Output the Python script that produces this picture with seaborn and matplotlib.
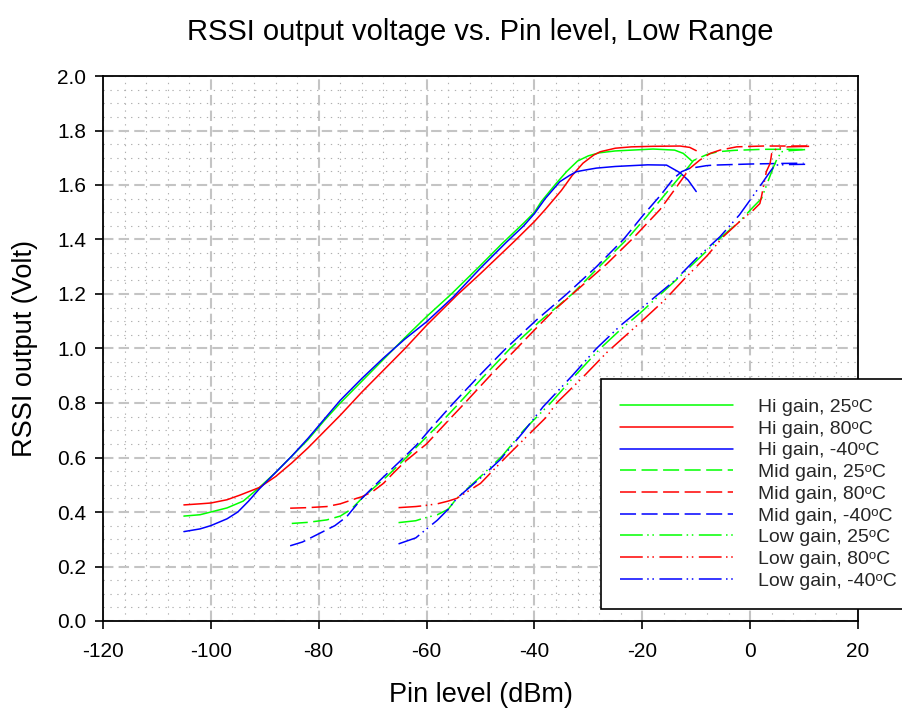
import matplotlib
matplotlib.use("Agg")
import matplotlib.pyplot as plt
import seaborn as sns
import numpy as np
import pandas as pd
from matplotlib.ticker import MultipleLocator, FormatStrFormatter
from matplotlib.lines import Line2D

# ---------------- data ----------------
hi25_x = [-105, -102, -100, -97, -94, -91, -88, -85, -82, -79, -76, -72, -68, -64, -60, -55.4, -50, -46, -42, -40, -38.7, -36, -34, -32, -30, -28, -25, -22, -18, -14, -12.4, -10.8]
hi25_y = [0.385, 0.39, 0.40, 0.415, 0.44, 0.49, 0.545, 0.605, 0.665, 0.735, 0.80, 0.88, 0.96, 1.04, 1.117, 1.20, 1.305, 1.385, 1.46, 1.50, 1.54, 1.605, 1.65, 1.688, 1.707, 1.718, 1.725, 1.728, 1.732, 1.728, 1.716, 1.688]

hi80_x = [-105, -102, -100, -97, -94.6, -91, -88, -85, -82, -79, -76, -72, -68, -64, -60, -54.4, -50, -43.9, -40, -38, -36.5, -35, -33, -31, -29, -27.8, -25, -22, -18, -13, -11.2, -10]
hi80_y = [0.426, 0.43, 0.433, 0.445, 0.462, 0.49, 0.53, 0.58, 0.635, 0.695, 0.755, 0.84, 0.92, 1.0, 1.085, 1.195, 1.275, 1.39, 1.466, 1.51, 1.545, 1.58, 1.635, 1.68, 1.71, 1.722, 1.735, 1.74, 1.742, 1.743, 1.738, 1.726]

hin40_x = [-105, -102, -100, -97, -95, -93, -91, -88, -85, -82, -79, -76, -72, -68, -64, -60, -55, -50, -45.2, -42, -40, -38, -35.3, -33.5, -32.2, -30, -28.5, -25, -19, -15.5, -13, -11.5, -10]
hin40_y = [0.328, 0.338, 0.35, 0.375, 0.40, 0.44, 0.485, 0.545, 0.605, 0.67, 0.74, 0.81, 0.89, 0.965, 1.035, 1.098, 1.19, 1.295, 1.39, 1.45, 1.495, 1.55, 1.612, 1.635, 1.649, 1.657, 1.662, 1.668, 1.674, 1.673, 1.645, 1.618, 1.576]

mid25_x = [-85, -82, -78.5, -76, -74, -72, -70, -67.4, -64, -60.6, -57.5, -54.4, -50, -44.5, -39, -33, -28, -22.9, -19.2, -16, -13, -11.5, -10.5, -8, -6, -3, 2.4, 7, 10.7]
mid25_y = [0.358, 0.362, 0.371, 0.385, 0.41, 0.45, 0.485, 0.53, 0.595, 0.664, 0.725, 0.79, 0.885, 1.0, 1.10, 1.20, 1.30, 1.40, 1.484, 1.56, 1.631, 1.665, 1.69, 1.712, 1.722, 1.727, 1.731, 1.731, 1.73]

mid80_x = [-85.3, -82, -78.5, -76, -73, -72, -70, -68, -66.2, -64, -60, -56, -52.9, -48, -43.3, -40, -36.5, -31.5, -26.6, -21.7, -16.7, -13.6, -11.2, -9.3, -7.4, -5.6, -2.5, 2.4, 10.8]
mid80_y = [0.414, 0.416, 0.42, 0.43, 0.45, 0.456, 0.475, 0.505, 0.542, 0.585, 0.65, 0.735, 0.80, 0.905, 1.0, 1.068, 1.138, 1.225, 1.31, 1.405, 1.51, 1.594, 1.661, 1.692, 1.716, 1.728, 1.74, 1.743, 1.743]

midn40_x = [-85.3, -83, -80.4, -77, -74.8, -72, -68.6, -65, -61.9, -58.4, -55, -50, -45.3, -39.6, -34, -28.5, -23.5, -19.8, -16.5, -14.2, -12.7, -11.2, -8.1, -6.8, 0, 5.5, 9.9]
midn40_y = [0.276, 0.29, 0.316, 0.35, 0.383, 0.45, 0.517, 0.585, 0.645, 0.725, 0.80, 0.905, 1.0, 1.105, 1.20, 1.30, 1.40, 1.49, 1.565, 1.624, 1.649, 1.661, 1.671, 1.673, 1.677, 1.679, 1.68]

low25_x = [-65.2, -62, -60.6, -58, -56, -54.4, -50, -46, -42, -37, -32.5, -27.8, -24, -20.4, -16, -13, -9, -5.3, -2, 0.6, 2.1, 3.4, 4.3, 4.9, 5.8, 7.4, 10.2]
low25_y = [0.361, 0.368, 0.377, 0.39, 0.41, 0.45, 0.53, 0.605, 0.70, 0.80, 0.90, 1.0, 1.07, 1.13, 1.21, 1.265, 1.34, 1.41, 1.465, 1.52, 1.55, 1.618, 1.665, 1.692, 1.722, 1.726, 1.73]

low80_x = [-65.2, -62, -60.6, -58, -56, -54.4, -50, -45.2, -40, -37.7, -35.9, -31, -26.6, -20.4, -16, -12.4, -8, -5, -2, 0.6, 1.8, 2.1, 3.0, 3.7, 4.0, 4.9, 7, 11.1]
low80_y = [0.416, 0.42, 0.423, 0.43, 0.44, 0.45, 0.505, 0.603, 0.705, 0.75, 0.80, 0.895, 0.985, 1.095, 1.175, 1.251, 1.34, 1.41, 1.465, 1.508, 1.532, 1.557, 1.649, 1.679, 1.716, 1.734, 1.74, 1.742]

lown40_x = [-65.2, -62, -60.6, -58, -56, -54.4, -50, -46.4, -42, -38.4, -33, -28.5, -24, -20, -17, -13.9, -10, -5.6, -2, 0, 2.4, 3.7, 4.6, 7, 10.2]
lown40_y = [0.283, 0.305, 0.328, 0.37, 0.41, 0.45, 0.525, 0.591, 0.695, 0.786, 0.90, 1.0, 1.085, 1.15, 1.20, 1.251, 1.33, 1.41, 1.49, 1.545, 1.612, 1.649, 1.673, 1.675, 1.676]

labels = ["Hi gain, 25\u1d52C", "Hi gain, 80\u1d52C", "Hi gain, -40\u1d52C",
          "Mid gain, 25\u1d52C", "Mid gain, 80\u1d52C", "Mid gain, -40\u1d52C",
          "Low gain, 25\u1d52C", "Low gain, 80\u1d52C", "Low gain, -40\u1d52C"]

title = "RSSI output voltage vs. Pin level, Low Range"
xlabel = "Pin level (dBm)"
ylabel = "RSSI output (Volt)"

# ---------------- style ----------------
sns.set_theme(style="white")
plt.rcParams["font.family"] = ["Liberation Sans", "DejaVu Sans"]
plt.rcParams["axes.unicode_minus"] = False

GREEN, RED, BLUE = "#00ff00", "#ff0000", "#0000ff"
SOLID = "-"
DASH = (0, (10.5, 3.6))
DDOT = (0, (14.9, 2.9, 1.0, 2.4, 1.0, 3.6))

series = [
    (hi25_x, hi25_y, GREEN, SOLID), (hi80_x, hi80_y, RED, SOLID), (hin40_x, hin40_y, BLUE, SOLID),
    (mid25_x, mid25_y, GREEN, DASH), (mid80_x, mid80_y, RED, DASH), (midn40_x, midn40_y, BLUE, DASH),
    (low25_x, low25_y, GREEN, DDOT), (low80_x, low80_y, RED, DDOT), (lown40_x, lown40_y, BLUE, DDOT),
]

fig = plt.figure(figsize=(9.02, 7.09), dpi=100)
ax = fig.add_axes([103 / 902, 1 - 621 / 709, 755 / 902, 545 / 709])

handles = []
for (xs, ys, c, ls), lab in zip(series, labels):
    df = pd.DataFrame({"x": xs, "y": ys})
    sns.lineplot(data=df, x="x", y="y", ax=ax, color=c, linewidth=1.1,
                 linestyle=ls, sort=False, estimator=None, legend=False)
    handles.append(Line2D([0], [0], color=c, linewidth=1.1, linestyle=ls))

ax.set_xlim(-120, 20)
ax.set_ylim(0, 2.0)
ax.xaxis.set_major_locator(MultipleLocator(20))
ax.xaxis.set_minor_locator(MultipleLocator(4))
ax.yaxis.set_major_locator(MultipleLocator(0.2))
ax.yaxis.set_minor_locator(MultipleLocator(0.05))
ax.yaxis.set_major_formatter(FormatStrFormatter("%.1f"))

ax.set_axisbelow(True)
ax.grid(which="minor", color="#b0b0b0", linewidth=0.8, linestyle=(0, (1.2, 5)))
ax.grid(which="major", color="#c4c4c4", linewidth=1.5, linestyle=(0, (5, 2.5)))

for sp in ax.spines.values():
    sp.set_visible(True)
    sp.set_color("black")
    sp.set_linewidth(1.3)

ax.tick_params(axis="both", which="major", direction="out", length=6, width=1.2,
               labelsize=15, colors="black", bottom=True, left=True, top=False, right=False, pad=6)
ax.tick_params(axis="x", which="major", pad=9)
ax.tick_params(axis="both", which="minor", length=0)

ax.set_title(title, fontsize=21, pad=26, color="black")
ax.set_xlabel(xlabel, fontsize=19.5, labelpad=15, color="black")
ax.set_ylabel(ylabel, fontsize=19.5, labelpad=14, color="black")

leg = ax.legend(handles, labels, loc="upper left", bbox_to_anchor=(601 / 902, 1 - 379 / 709),
                bbox_transform=fig.transFigure, frameon=True, fancybox=False, framealpha=1,
                edgecolor="black", fontsize=14, handlelength=5.8, handletextpad=1.3,
                labelspacing=0.21, borderpad=1.0, borderaxespad=0)
leg.get_frame().set_linewidth(1.2)

fig.savefig("out.png", dpi=100)
